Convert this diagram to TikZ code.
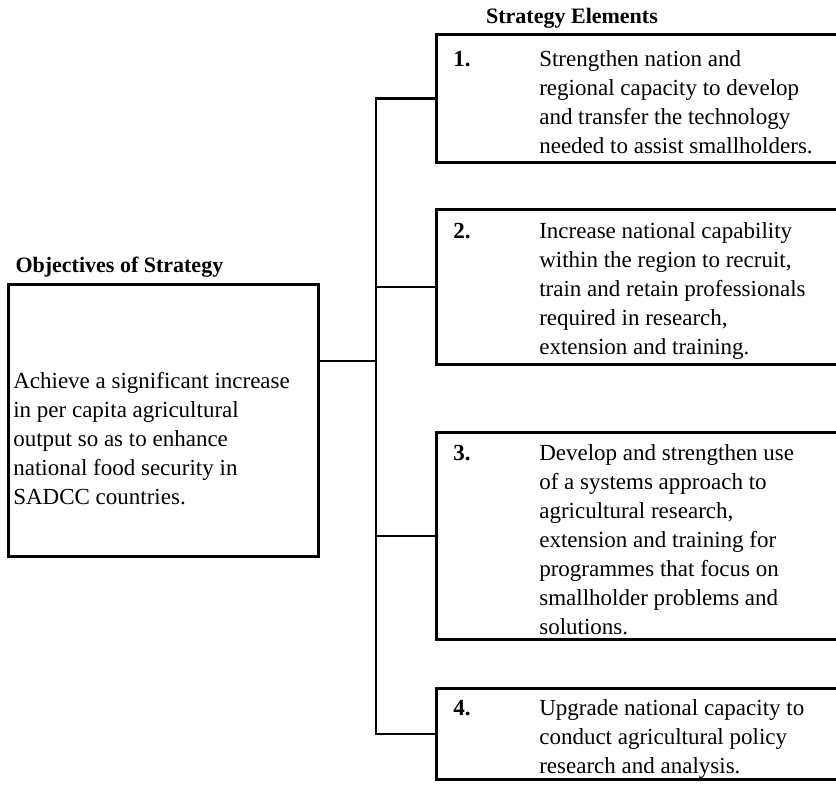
\documentclass[tikz,border=0pt]{standalone}
\usepackage{fontspec}
\setmainfont{Liberation Serif}
\usepackage{tikz}
\usetikzlibrary{positioning}

\begin{document}
\begin{tikzpicture}[x=1pt, y=-1pt,
    box/.style={draw, line width=2.6pt, rectangle, inner ysep=0pt, font=\fontsize{23}{29}\selectfont},
    elem/.style={box, anchor=north west, minimum width=420pt, inner xsep=17pt, text height=24pt},
    heading/.style={font=\fontsize{22}{26}\selectfont\bfseries},
    link/.style={line width=2.6pt}]
    \path[use as bounding box] (0,0) rectangle (836,788);
    \clip (0,0) rectangle (836,788);

    % Headings
    \node (objhead) [heading, anchor=base west] at (12,272) {Objectives of Strategy};
    \node (elemhead) [heading, anchor=base] at (572,23) {Strategy Elements};

    % Objective box
    \node (obj) [box, anchor=north west, minimum width=310pt, minimum height=272pt, inner xsep=5pt, text height=52pt] at (7,283)
        {\parbox[t]{300pt}{Achieve a significant increase\\in per capita agricultural\\output so as to enhance\\national food security in\\SADCC countries.}};

    % Strategy element boxes
    \node (e1) [elem, minimum height=128pt] at (435,33)
        {\makebox[86pt][l]{\bfseries 1.}\parbox[t]{300pt}{Strengthen nation and\\regional capacity to develop\\and transfer the technology\\needed to assist smallholders.}};
    \node (e2) [elem, minimum height=155pt] at (435,208)
        {\makebox[86pt][l]{\bfseries 2.}\parbox[t]{300pt}{Increase national capability\\within the region to recruit,\\train and retain professionals\\required in research,\\extension and training.}};
    \node (e3) [elem, minimum height=207pt] at (435,431)
        {\makebox[86pt][l]{\bfseries 3.}\parbox[t]{300pt}{Develop and strengthen use\\of a systems approach to\\agricultural research,\\extension and training for\\programmes that focus on\\smallholder problems and\\solutions.}};
    \node (e4) [elem, minimum height=91pt, text height=26pt] at (435,687)
        {\makebox[86pt][l]{\bfseries 4.}\parbox[t]{300pt}{Upgrade national capacity to\\conduct agricultural policy\\research and analysis.}};

    % Connectors
    \coordinate (spine) at (376,361);
    \draw[link] (obj.east |- spine) -- (spine);
    \draw[link] (e1.west) -- (spine |- e1.west) -- (spine |- e4.west) -- (e4.west);
    \draw[link] (e2.west) -- (spine |- e2.west);
    \draw[link] (e3.west) -- (spine |- e3.west);
\end{tikzpicture}
\end{document}
